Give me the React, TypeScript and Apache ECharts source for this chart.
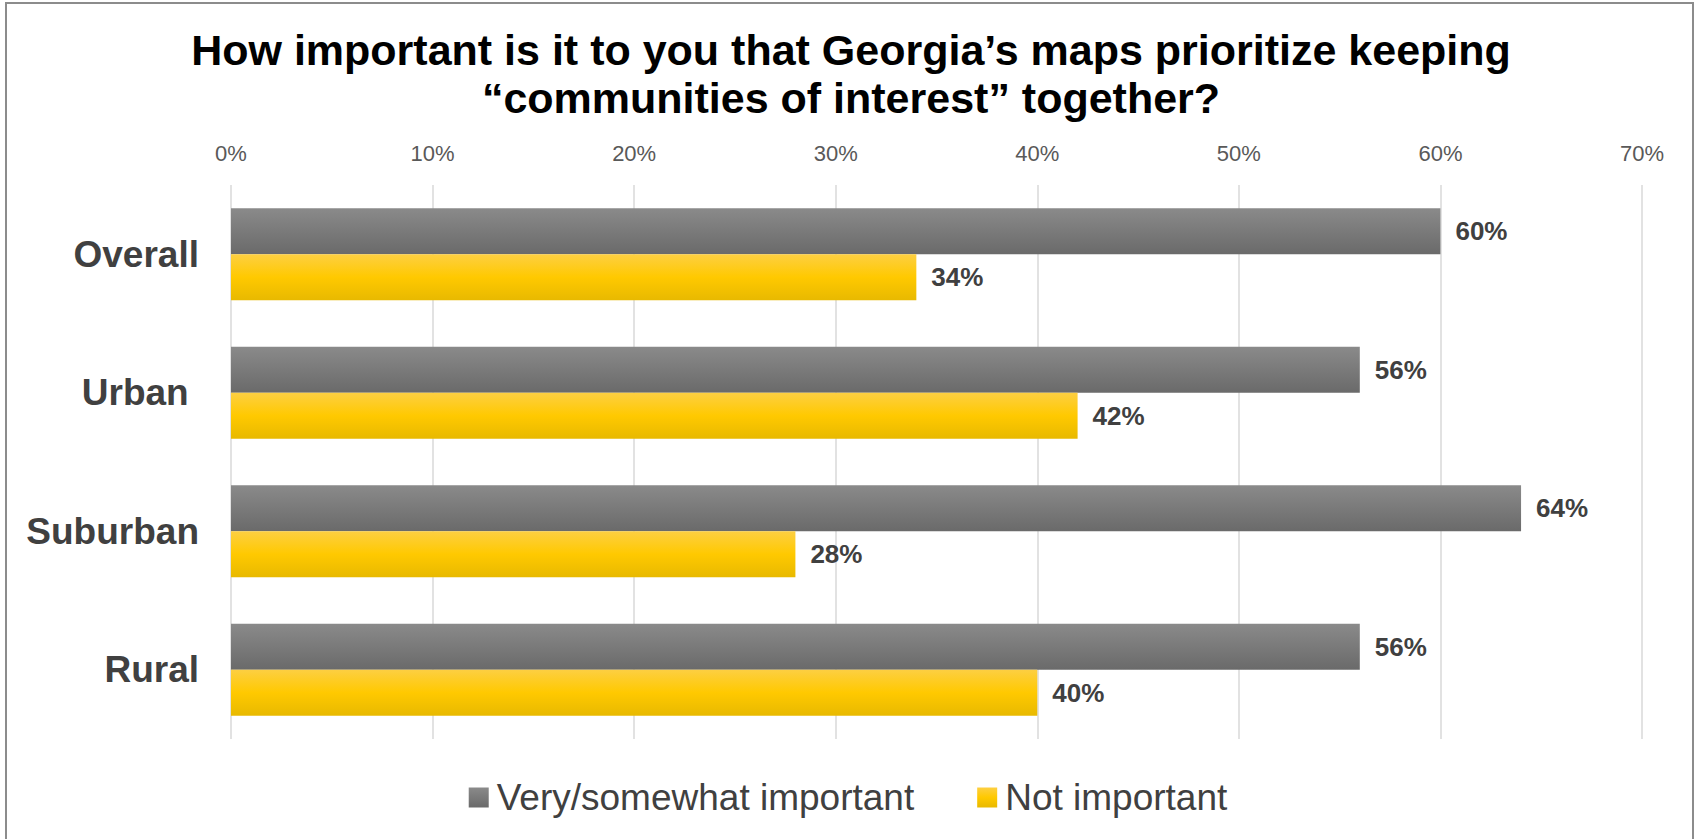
import React, { useEffect, useRef } from "react";
import * as echarts from "echarts";

const categories = ["Overall", "Urban ", "Suburban", "Rural"];
const seriesNames = ["Very/somewhat important", "Not important"];
const importantValues = [60, 56, 64, 56];
const notImportantValues = [34, 42, 28, 40];
const titleText = "How important is it to you that Georgia\u2019s maps prioritize keeping\n\u201ccommunities of interest\u201d together?";

const FONT = "'Liberation Sans', Arial, Helvetica, sans-serif";

export default function App() {
  const ref = useRef<HTMLDivElement>(null);
  useEffect(() => {
    document.body.style.margin = "0";
    if (!ref.current) return;
    const chart = echarts.init(ref.current, null, { renderer: "svg" });
    const grayGrad = new echarts.graphic.LinearGradient(0, 0, 0, 1, [
      { offset: 0, color: "#8a8a8a" },
      { offset: 1, color: "#6a6a6a" },
    ]);
    const yellowGrad = new echarts.graphic.LinearGradient(0, 0, 0, 1, [
      { offset: 0, color: "#fdcf42" },
      { offset: 0.5, color: "#ffc900" },
      { offset: 1, color: "#e8b900" },
    ]);
    const labelStyle = {
      show: true,
      position: "right",
      distance: 15,
      formatter: "{c}%",
      fontFamily: FONT,
      fontWeight: "bold",
      fontSize: 26,
      color: "#404040",
    };
    chart.setOption({
      animation: false,
      backgroundColor: "#ffffff",
      title: {
        text: titleText,
        left: 846,
        top: 21,
        textAlign: "center",
        textStyle: {
          fontFamily: FONT,
          fontWeight: "bold",
          fontSize: 43,
          lineHeight: 48,
          color: "#000000",
        },
      },
      graphic: [
        {
          type: "rect",
          shape: { x: 6, y: 3, width: 1687, height: 860 },
          style: { fill: "none", stroke: "#8c8c8c", lineWidth: 2 },
          silent: true,
        },
      ],
      legend: {
        data: seriesNames,
        left: "center",
        top: 774,
        icon: "rect",
        itemWidth: 20,
        itemHeight: 20,
        itemGap: 63,
        textStyle: {
          fontFamily: FONT,
          fontSize: 37,
          color: "#404040",
          padding: [0, 0, 0, 3],
        },
      },
      grid: { left: 231, right: 54, top: 185, height: 554, containLabel: false },
      xAxis: {
        type: "value",
        position: "top",
        min: 0,
        max: 70,
        interval: 10,
        axisLine: { show: false },
        axisTick: { show: false },
        axisLabel: {
          formatter: "{value}%",
          fontFamily: FONT,
          fontSize: 22,
          color: "#595959",
          margin: 21,
        },
        splitLine: { show: true, lineStyle: { color: "#d9d9d9", width: 1.5 } },
      },
      yAxis: {
        type: "category",
        data: categories,
        inverse: true,
        axisLine: { show: false },
        axisTick: { show: false },
        axisLabel: {
          fontFamily: FONT,
          fontWeight: "bold",
          fontSize: 37,
          color: "#404040",
          margin: 32,
        },
      },
      series: [
        {
          name: seriesNames[0],
          type: "bar",
          data: importantValues,
          barWidth: 46,
          barGap: "0%",
          itemStyle: { color: grayGrad },
          label: labelStyle,
        },
        {
          name: seriesNames[1],
          type: "bar",
          data: notImportantValues,
          barWidth: 46,
          barGap: "0%",
          itemStyle: { color: yellowGrad },
          label: labelStyle,
        },
      ],
    });
    return () => chart.dispose();
  }, []);
  return <div ref={ref} style={{ width: 1696, height: 839 }} />;
}
